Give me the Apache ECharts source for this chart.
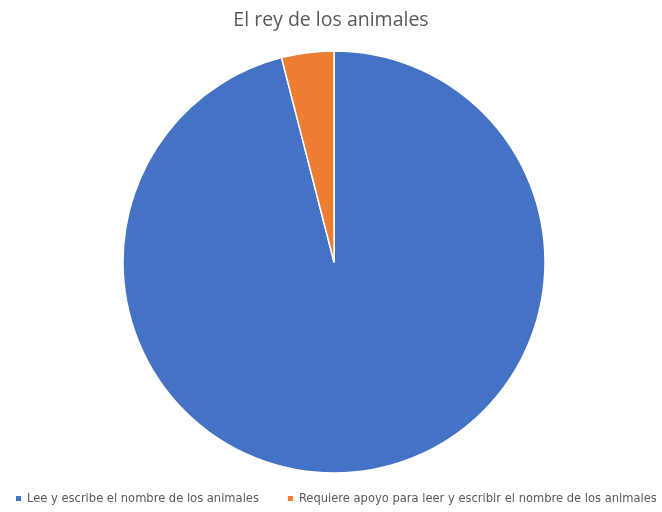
<!DOCTYPE html>
<html><head><meta charset="utf-8">
<script src="https://cdn.jsdelivr.net/npm/echarts@6/dist/echarts.min.js"></script>
<style>html,body{margin:0;padding:0;background:#fff}#c{width:662px;height:512px}</style>
</head><body><div id="c"></div>
<script>
const categories = ["Lee y escribe el nombre de los animales", "Requiere apoyo para leer y escribir el nombre de los animales"];
const values = [96, 4];
const colors = ["#4472C4", "#ED7D31"];
const chart = echarts.init(document.getElementById('c'), null, {renderer: 'canvas'});
chart.setOption({
  animation: false,
  title: {text: "El rey de los animales", left: 'center', top: 5,
    textStyle: {fontFamily: 'Open Sans', fontSize: 19.5, fontWeight: 'normal', color: '#595959'}},
  legend: {bottom: 7, left: 14, width: 660, padding: 0, itemWidth: 7, itemHeight: 7, itemGap: 27, icon: 'rect',
    textStyle: {fontFamily: 'DejaVu Sans Condensed', fontSize: 12.8, color: '#595959'},
    data: categories},
  series: [{type: 'pie', center: [334, 262], radius: [0, 211], startAngle: 90, clockwise: true,
    label: {show: false}, labelLine: {show: false},
    itemStyle: {borderColor: '#fff', borderWidth: 1.5},
    emphasis: {disabled: true},
    data: categories.map((n, i) => ({name: n, value: values[i], itemStyle: {color: colors[i]}}))}]
});
</script></body></html>
